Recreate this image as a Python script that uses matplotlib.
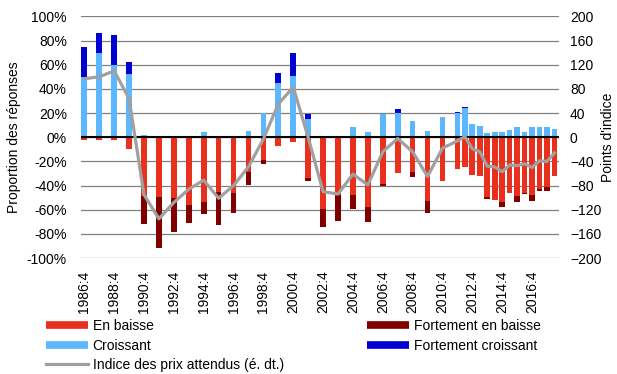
import numpy as np
import matplotlib.pyplot as plt
from matplotlib.lines import Line2D

plt.rcParams['font.family'] = ['Liberation Sans', 'DejaVu Sans']

# périodes : annuel (T4) jusqu'en 2011, puis semestriel (T2, T4)
periodes = ["1986:4", "1987:4", "1988:4", "1989:4", "1990:4", "1991:4", "1992:4",
            "1993:4", "1994:4", "1995:4", "1996:4", "1997:4", "1998:4", "1999:4",
            "2000:4", "2001:4", "2002:4", "2003:4", "2004:4", "2005:4", "2006:4",
            "2007:4", "2008:4", "2009:4", "2010:4", "2011:4",
            "2012:2", "2012:4", "2013:2", "2013:4", "2014:2", "2014:4", "2015:2",
            "2015:4", "2016:2", "2016:4", "2017:2", "2017:4", "2018:2"]

croissant = [50, 70, 60, 52, 2, 1, 0.5, 0.5, 4, 0.5, 0.5, 5, 20, 45, 51, 15, 0.5, 0.5,
             8.5, 4.5, 19.5, 20, 13.5, 5.5, 17, 20,
             24, 11, 9.3, 3.5, 4, 4.6, 6, 8.3, 4.6, 8.3, 8.8, 8.8, 6.9]
fort_croissant = [25, 16, 25, 10, 0, 0, 0, 0, 0, 0, 0, 0, 0, 8, 19, 4, 0, 0,
                  0, 0, 0, 3, 0, 0, 0, 1,
                  1, 0, 0, 0, 0, 0, 0, 0, 0, 0, 0, 0, 0]
en_baisse = [-2, -2, -2, -10, -48.5, -49.6, -50.4, -56, -53.2, -45, -46.5, -28.4, -18.8,
             -7, -4, -34, -59.5, -47.7, -47.7, -57.4, -39, -29.8, -28.4, -52.6, -35.8, -26.5,
             -24.5, -31.2, -32, -49.6, -51.8, -53.2, -46.3, -49, -45.8, -47.7, -43, -40.8, -32]
fort_baisse = [0, 0, 0, 0, -23.2, -42, -28.4, -15, -10.4, -28, -16.3, -11, -3.2,
               0, 0, -2, -15, -21.5, -11.8, -12.4, -1.5, 0, -4.1, -9.7, 0, 0,
               0, 0, 0, -1.6, 0, -4.7, 0, -4.2, -1.2, -4.7, -1.4, -3.6, 0]
indice = [97, 100, 110, 64, -95, -135, -108, -86, -71, -101, -80, -49, -3,
          55, 83, 0, -90, -94, -61, -79, -24, -2, -24, -65, -18, -6,
          1, -19, -24, -48, -49, -57, -46, -47, -44, -50, -39, -40, -26]

x = np.array([int(p[:4]) + (int(p[5]) - 1) / 4 for p in periodes])
etiquettes = ["%d:4" % a for a in range(1986, 2018, 2)]
pos_etiq = [a + 0.75 for a in range(1986, 2018, 2)]

c_baisse = '#E8301C'
c_fbaisse = '#800000'
c_crois = '#5CB7FF'
c_fcrois = '#0000D2'
c_ligne = '#A0A0A0'

fs = 10

fig = plt.figure(figsize=(6.17, 3.74), dpi=100)
ax = fig.add_axes([0.1308, 0.310, 0.775, 0.646])
ax2 = ax.twinx()

w = 0.38
b1 = ax.bar(x, croissant, w, color=c_crois, zorder=2)
b2 = ax.bar(x, fort_croissant, w, bottom=croissant, color=c_fcrois, zorder=2)
b3 = ax.bar(x, en_baisse, w, color=c_baisse, zorder=2)
b4 = ax.bar(x, fort_baisse, w, bottom=en_baisse, color=c_fbaisse, zorder=2)
ax.axhline(0, color='black', lw=1.5, zorder=3)

l1, = ax2.plot(x, indice, color=c_ligne, lw=2.3, zorder=4)

ax.set_ylim(-100, 100)
ax.set_yticks(np.arange(-100, 101, 20))
ax.set_yticklabels(["%d%%" % v for v in range(-100, 101, 20)])
ax2.set_ylim(-200, 200)
ax2.set_yticks(np.arange(-200, 201, 40))
ax.set_xlim(1986.51, 2018.55)
ax.set_xticks(pos_etiq)
ax.set_xticklabels(etiquettes, rotation=90)

ax.grid(axis='y', color='#808080', lw=0.9)
ax.set_axisbelow(True)
for a in (ax, ax2):
    for s in a.spines.values():
        s.set_visible(False)
    a.tick_params(length=0, labelsize=fs)
ax.tick_params(axis='y', pad=10)
ax.tick_params(axis='x', pad=9)
ax2.tick_params(axis='y', pad=8)

ax.set_ylabel("Proportion des réponses", fontsize=fs, labelpad=4)
ax2.set_ylabel("Points d'indice", fontsize=fs, labelpad=0)

h_baisse = Line2D([], [], color=c_baisse, lw=5.5, solid_capstyle='butt')
h_fbaisse = Line2D([], [], color=c_fbaisse, lw=5.5, solid_capstyle='butt')
h_crois = Line2D([], [], color=c_crois, lw=5.5, solid_capstyle='butt')
h_fcrois = Line2D([], [], color=c_fcrois, lw=5.5, solid_capstyle='butt')
h_ligne = Line2D([], [], color=c_ligne, lw=2.3)

kw = dict(frameon=False, fontsize=fs, handlelength=3.0, handletextpad=0.35,
          labelspacing=0.4, borderpad=0, borderaxespad=0)
fig.legend([h_baisse, h_crois, h_ligne],
           ["En baisse", "Croissant", "Indice des prix attendus (é. dt.)"],
           loc='upper left', bbox_to_anchor=(46 / 617, 1 - 319 / 374), **kw)
fig.legend([h_fbaisse, h_fcrois],
           ["Fortement en baisse", "Fortement croissant"],
           loc='upper left', bbox_to_anchor=(367 / 617, 1 - 319 / 374), **kw)

fig.savefig("out.png", dpi=100)
